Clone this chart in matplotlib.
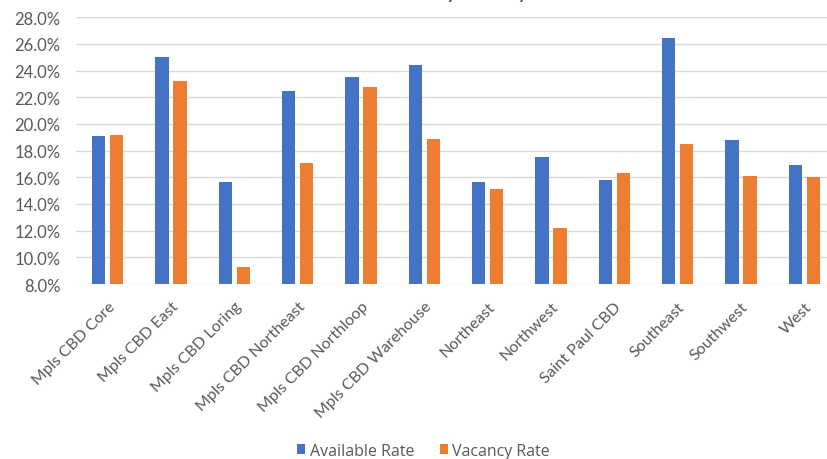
import numpy as np
import matplotlib.pyplot as plt
from matplotlib.ticker import FuncFormatter, MultipleLocator

submarkets = [
    "Mpls CBD Core", "Mpls CBD East", "Mpls CBD Loring", "Mpls CBD Northeast",
    "Mpls CBD Northloop", "Mpls CBD Warehouse", "Northeast", "Northwest",
    "Saint Paul CBD", "Southeast", "Southwest", "West",
]
available_rate = [19.1, 25.05, 15.65, 22.45, 23.55, 24.4, 15.65, 17.5, 15.8, 26.45, 18.8, 16.95]
vacancy_rate = [19.2, 23.2, 9.3, 17.1, 22.75, 18.9, 15.1, 12.2, 16.3, 18.5, 16.1, 16.0]

BLUE = "#4472C4"
ORANGE = "#ED7D31"
TEXT = "#595959"

plt.rcParams["font.family"] = ["Lato", "DejaVu Sans"]

fig = plt.figure(figsize=(8.27, 4.6), dpi=100)
# plot area runs a little past the right edge of the canvas
ax = fig.add_axes([0.0919, 0.3804, 0.919, 0.580])

x = np.arange(len(submarkets))
width = 0.213
offset = 0.142
ax.bar(x - offset, available_rate, width, color=BLUE, label="Available Rate", zorder=3)
ax.bar(x + offset, vacancy_rate, width, color=ORANGE, label="Vacancy Rate", zorder=3)

ax.set_ylim(8, 28)
ax.set_xlim(-0.5, len(submarkets) - 0.5)
ax.yaxis.set_major_locator(MultipleLocator(2))
ax.yaxis.set_major_formatter(FuncFormatter(lambda v, p: f"{v:.1f}%"))
ax.grid(axis="y", color="#D9D9D9", linewidth=1.0, zorder=0)

for side in ["top", "right", "left", "bottom"]:
    ax.spines[side].set_visible(False)
ax.tick_params(axis="both", length=0, colors=TEXT)
ax.tick_params(axis="y", pad=11, labelsize=12)

ax.set_xticks(x)
ax.set_xticklabels(submarkets, rotation=45, ha="right", rotation_mode="anchor",
                   color=TEXT, fontsize=11.5)
ax.tick_params(axis="x", pad=11)

# title sits mostly above the canvas
fig.text(0.51, 1 + 1 / 460, "Available Rate and Vacancy Rate by Submarket",
         ha="center", va="baseline", fontsize=14, fontweight="bold", color=TEXT)

fig.legend(loc="center", bbox_to_anchor=(0.512, 0.018), ncol=2, frameon=False,
           prop={"family": ["Open Sans", "DejaVu Sans"], "size": 11.5},
           handlelength=0.5, handleheight=0.5, columnspacing=1.6,
           handletextpad=0.3, labelcolor=TEXT)

fig.savefig("out.png", dpi=100)
